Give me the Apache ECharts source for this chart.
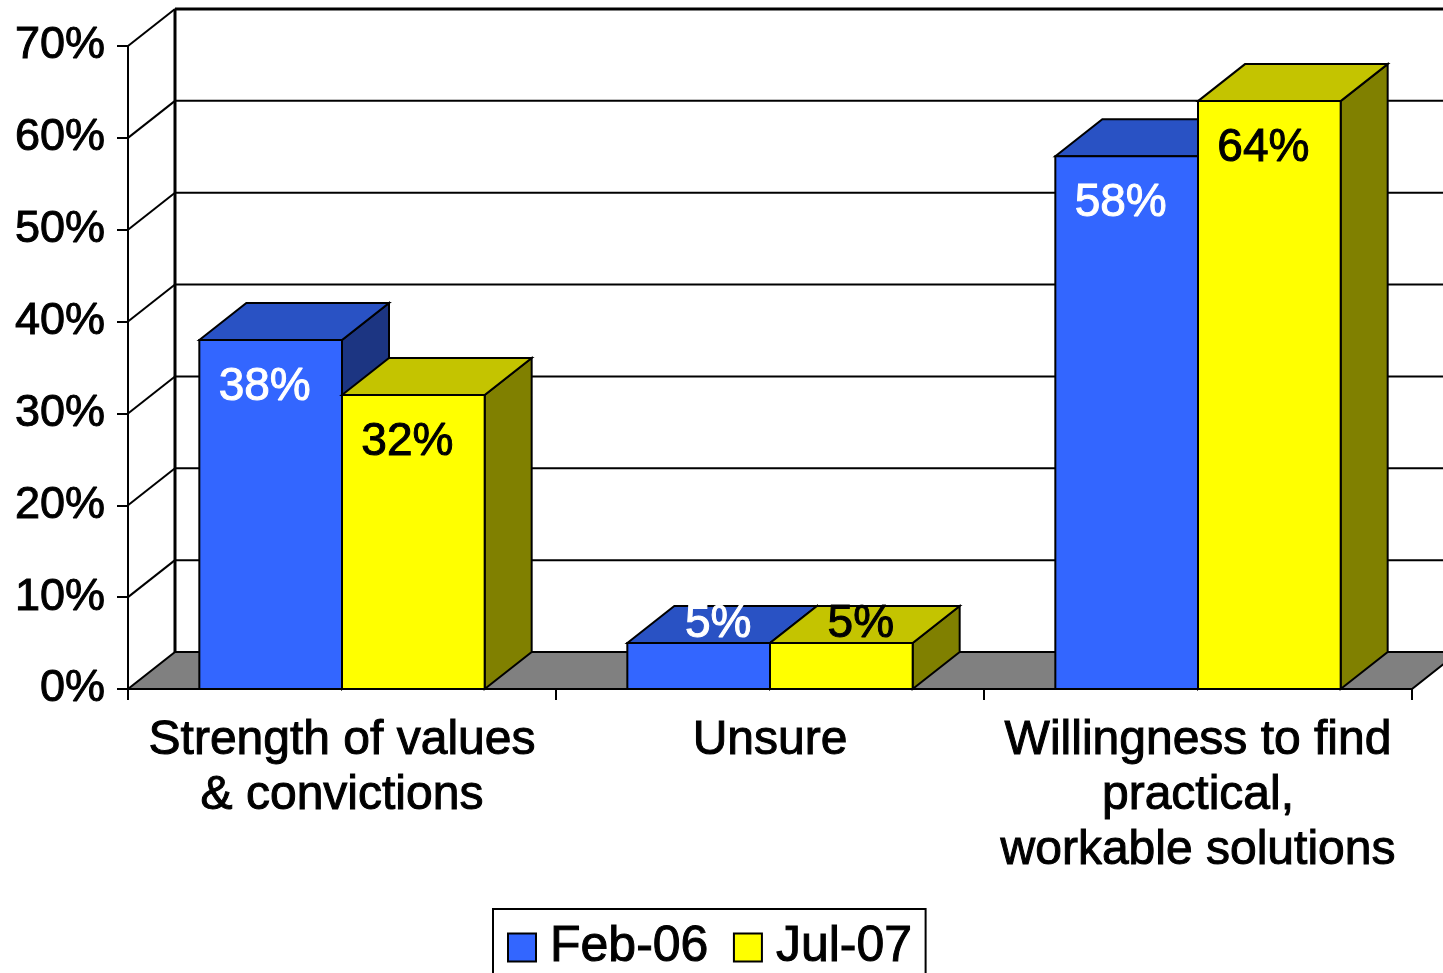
<!DOCTYPE html>
<html lang="en">
<head>
    <meta charset="UTF-8">
    <title>Strength of values vs. willingness to find solutions</title>
    <script src="https://cdn.jsdelivr.net/npm/echarts@6/dist/echarts.min.js"></script>
    <style>
        body{ margin: 0; background: #ffffff; }
        #chart{ width: 1443px; height: 973px; }
    </style>
</head>
<body>
<div id="chart"></div>
<script>
    // chart data
    var categories = ['Strength of values\n& convictions', 'Unsure', 'Willingness to find\npractical,\nworkable solutions'];
    var seriesNames = ['Feb-06', 'Jul-07'];
    var feb06 = [38, 5, 58];
    var jul07 = [32, 5, 64];
    var yMax = 70, yStep = 10;

    // 3d depth offset in px and face colours
    var DX = 47, DY = -37;
    var FONT = 'Liberation Sans';
    var faces = [
        { front: '#3366FF', top: '#2952C4', side: '#1C3582', text: '#ffffff' },
        { front: '#FFFF00', top: '#C4C400', side: '#808000', text: '#000000' }
    ];

    function wallsItem(params, api) {
        var cs = params.coordSys;
        var x = cs.x, w = cs.width;
        var yb = api.coord([0, 0])[1];
        var yt = api.coord([0, yMax])[1];
        var kids = [];
        // floor
        kids.push({ type: 'polygon', shape: { points: [[x, yb], [x + w, yb], [x + w + DX, yb + DY], [x + DX, yb + DY]] },
            style: { fill: '#808080', stroke: '#000', lineWidth: 2 } });
        for (var v = yStep; v <= yMax; v += yStep) {
            var y = api.coord([0, v])[1];
            kids.push({ type: 'line', shape: { x1: x, y1: y, x2: x + DX, y2: y + DY }, style: { stroke: '#000', lineWidth: 2 } });
            kids.push({ type: 'line', shape: { x1: x + DX, y1: y + DY, x2: x + w + DX, y2: y + DY },
                style: { stroke: '#000', lineWidth: v === yMax ? 3 : 2 } });
        }
        kids.push({ type: 'line', shape: { x1: x + DX, y1: yb + DY, x2: x + DX, y2: yt + DY }, style: { stroke: '#000', lineWidth: 3 } });
        return { type: 'group', children: kids };
    }

    function barItem(k) {
        return function (params, api) {
            var ci = api.value(0), v = api.value(1);
            var p = api.coord([ci, v]);
            var b = api.coord([ci, 0]);
            var w = api.size([1, 0])[0] / 3;
            var x0 = k === 0 ? p[0] - w : p[0];
            var x1 = x0 + w, y0 = p[1], y1 = b[1];
            var f = faces[k];
            var edge = { stroke: '#000', lineWidth: 2 };
            var tx, ty;
            if (y1 - y0 > 80) { tx = (x0 + x1) / 2 - 6; ty = y0 + 47; }
            else { tx = (x0 + x1 + DX) / 2 - 4; ty = y0 + DY / 2; }
            return { type: 'group', children: [
                { type: 'polygon', shape: { points: [[x1, y0], [x1 + DX, y0 + DY], [x1 + DX, y1 + DY], [x1, y1]] },
                    style: Object.assign({ fill: f.side }, edge) },
                { type: 'polygon', shape: { points: [[x0, y0], [x0 + DX, y0 + DY], [x1 + DX, y0 + DY], [x1, y0]] },
                    style: Object.assign({ fill: f.top }, edge) },
                { type: 'rect', shape: { x: x0, y: y0, width: w, height: y1 - y0 },
                    style: Object.assign({ fill: f.front }, edge) },
                { type: 'text', x: tx, y: ty, style: { text: v + '%', fill: f.text, font: '46px "' + FONT + '"',
                    stroke: f.text, lineWidth: 1, align: 'center', verticalAlign: 'middle' } }
            ] };
        };
    }

    var chart = echarts.init(document.getElementById('chart'));
    var option = {
        animation: false,
        backgroundColor: '#ffffff',
        textStyle: { fontFamily: FONT },
        grid: { left: 128, right: 31, top: 46, bottom: 284 },
        legend: {
            data: seriesNames,
            left: 493, top: 909,
            padding: [13, 13, 30, 14],
            borderColor: '#000', borderWidth: 2,
            itemWidth: 28, itemHeight: 28, itemGap: 24,
            icon: 'rect',
            textStyle: { fontSize: 50, color: '#000', fontFamily: FONT, padding: [0, 0, 0, 9],
                textBorderColor: '#000', textBorderWidth: 1 }
        },
        xAxis: {
            type: 'category',
            data: categories,
            axisLine: { lineStyle: { color: '#000', width: 2 } },
            axisTick: { show: true, length: 11, lineStyle: { color: '#000', width: 2 } },
            axisLabel: { interval: 0, margin: 24, fontSize: 48, lineHeight: 55, color: '#000', fontFamily: FONT,
                textBorderColor: '#000', textBorderWidth: 1 }
        },
        yAxis: {
            type: 'value', min: 0, max: yMax, interval: yStep,
            axisLine: { show: true, lineStyle: { color: '#000', width: 2 } },
            axisTick: { show: true, length: 11, lineStyle: { color: '#000', width: 2 } },
            splitLine: { show: false },
            axisLabel: { formatter: '{value}%', margin: 23, fontSize: 45, color: '#000', fontFamily: FONT,
                textBorderColor: '#000', textBorderWidth: 1 }
        },
        series: [
            { name: 'walls', type: 'custom', z: 1, silent: true, clip: false, renderItem: wallsItem, data: [[0, 0]] },
            { name: seriesNames[0], type: 'custom', z: 3, clip: false, renderItem: barItem(0),
                itemStyle: { color: faces[0].front, borderColor: '#000', borderWidth: 2 },
                data: feb06.map(function (v, i) { return [i, v]; }) },
            { name: seriesNames[1], type: 'custom', z: 4, clip: false, renderItem: barItem(1),
                itemStyle: { color: faces[1].front, borderColor: '#000', borderWidth: 2 },
                data: jul07.map(function (v, i) { return [i, v]; }) }
        ]
    };
    chart.setOption(option);
</script>
</body>
</html>
